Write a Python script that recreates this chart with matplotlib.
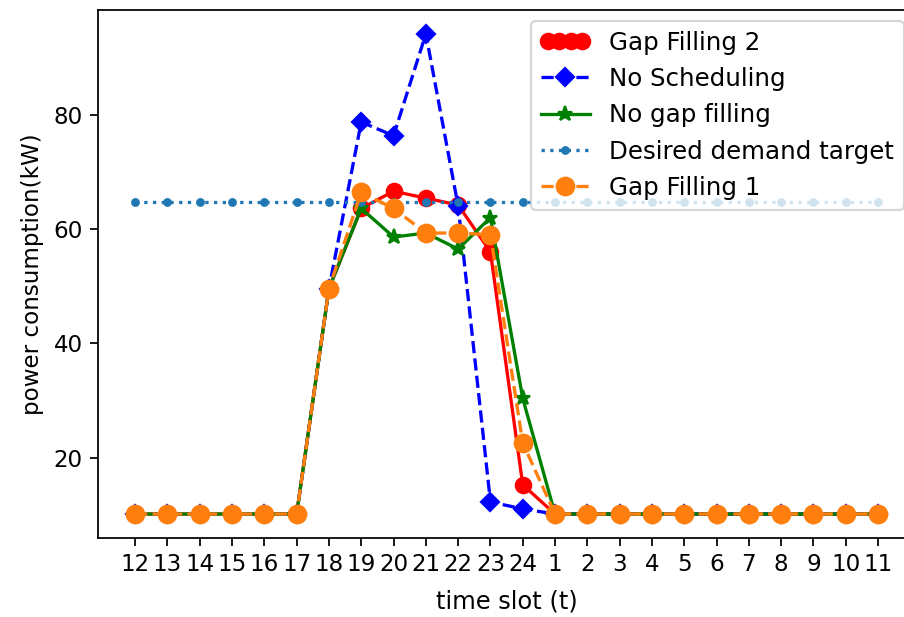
import matplotlib
matplotlib.use("Agg")
import matplotlib.pyplot as plt
from matplotlib.legend_handler import HandlerLine2D

# time slots, starting at noon
slots = ["12", "13", "14", "15", "16", "17", "18", "19", "20", "21", "22", "23",
         "24", "1", "2", "3", "4", "5", "6", "7", "8", "9", "10", "11"]

gap_filling_2 = [10.2, 10.2, 10.2, 10.2, 10.2, 10.2, 49.6, 63.6, 66.6, 65.4, 64.2, 56.0,
                 15.3, 10.2, 10.2, 10.2, 10.2, 10.2, 10.2, 10.2, 10.2, 10.2, 10.2, 10.2]
no_scheduling = [10.2, 10.2, 10.2, 10.2, 10.2, 10.2, 49.6, 78.7, 76.3, 94.1, 64.0, 12.3,
                 11.1, 10.2, 10.2, 10.2, 10.2, 10.2, 10.2, 10.2, 10.2, 10.2, 10.2, 10.2]
no_gap_filling = [10.2, 10.2, 10.2, 10.2, 10.2, 10.2, 49.6, 63.6, 58.6, 59.3, 56.5, 62.0,
                  30.4, 10.2, 10.2, 10.2, 10.2, 10.2, 10.2, 10.2, 10.2, 10.2, 10.2, 10.2]
target = [64.8] * 24
gap_filling_1 = [10.2, 10.2, 10.2, 10.2, 10.2, 10.2, 49.6, 66.4, 63.6, 59.3, 59.3, 59.0,
                 22.6, 10.2, 10.2, 10.2, 10.2, 10.2, 10.2, 10.2, 10.2, 10.2, 10.2, 10.2]

x = list(range(len(slots)))

fig = plt.figure(figsize=(904 / 158, 617 / 158), dpi=158)
# the original picture was cropped, the right spine falls just outside
ax = fig.add_axes([0.1084, 0.128, 0.904, 0.856])

l1, = ax.plot(x, gap_filling_2, "r-o", markersize=7, label="Gap Filling 2")
ax.plot(x, no_scheduling, "b--D", label="No Scheduling")
ax.plot(x, no_gap_filling, "g-*", markersize=7, label="No gap filling")
ax.plot(x, target, ":", marker=".", color="C0", label="Desired demand target")
ax.plot(x, gap_filling_1, "--o", color="C1", markersize=8, label="Gap Filling 1")

ax.set_xticks(x)
ax.set_xticklabels(slots)
ax.tick_params(labelsize=10.5)
ax.set_xlabel("time slot (t)", fontsize=11, labelpad=6)
ax.set_ylabel("power consumption(kW)", fontsize=10.5)
ax.legend(loc="upper right", handler_map={l1: HandlerLine2D(numpoints=4)},
          fontsize=11.2, borderaxespad=0.45)

fig.savefig("out.png", dpi=158)
